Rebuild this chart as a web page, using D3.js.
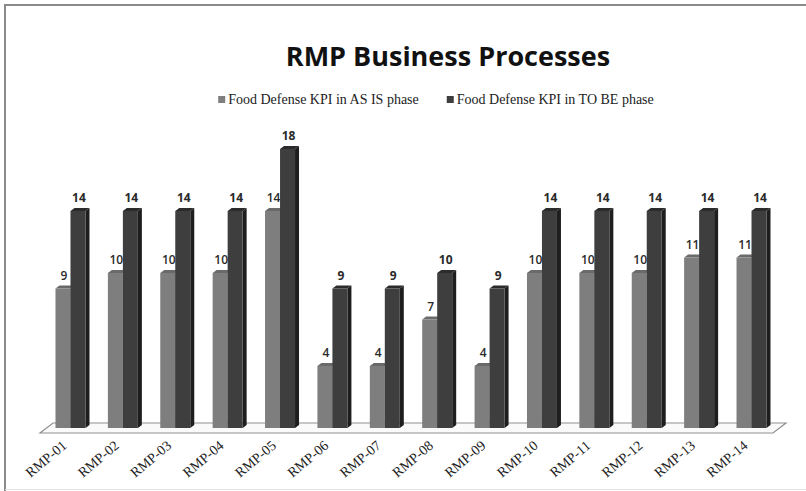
<!DOCTYPE html>
<html><head><meta charset="utf-8">
<script src="https://cdn.jsdelivr.net/npm/d3@7"></script>
<style>html,body{margin:0;padding:0;background:#fff;}svg{display:block;}</style>
</head><body>
<script>
const categories = ["RMP-01","RMP-02","RMP-03","RMP-04","RMP-05","RMP-06","RMP-07","RMP-08","RMP-09","RMP-10","RMP-11","RMP-12","RMP-13","RMP-14"];
const seriesNames = ["Food Defense KPI in AS IS phase","Food Defense KPI in TO BE phase"];
const asIs = [9,10,10,10,14,4,4,7,4,10,10,10,11,11];
const toBe = [14,14,14,14,18,9,9,10,9,14,14,14,14,14];
const title = "RMP Business Processes";

const W = 806, H = 491;
const svg = d3.select("body").append("svg").attr("width", W).attr("height", H);

// frame
svg.append("rect").attr("x",0).attr("y",0).attr("width",W).attr("height",H).attr("fill","#fff");
svg.append("path").attr("d","M5,491 L5,5 L806,5").attr("fill","none").attr("stroke","#8a8a8a").attr("stroke-width",2);
svg.append("line").attr("x1",5).attr("x2",806).attr("y1",489.5).attr("y2",489.5).attr("stroke","#e4e4e4").attr("stroke-width",1);

// title
svg.append("text").attr("x",448).attr("y",66).attr("text-anchor","middle")
  .attr("font-family","'Open Sans', sans-serif").attr("font-weight","bold").attr("font-size",27)
  .attr("fill","#111").text(title);

// legend
const colors = {front:["#7e7e7e","#3e3e3e"], top:["#6a6a6a","#2b2b2b"], side:["#5a5a5a","#1e1e1e"]};
const legendG = svg.append("g");
let lx = 0;
seriesNames.forEach((n,i)=>{
  const g = legendG.append("g").attr("transform",`translate(${lx},0)`);
  g.append("rect").attr("x",0).attr("y",-8).attr("width",7).attr("height",7).attr("fill",colors.front[i]);
  const t = g.append("text").attr("x",10).attr("y",0).attr("font-family","'Liberation Serif', serif")
    .attr("font-size",14).attr("fill","#222").text(n);
  lx += 10 + t.node().getComputedTextLength() + 28;
});
const lw = lx - 28;
legendG.attr("transform",`translate(${436 - lw/2},104)`);

// scales
const x = d3.scaleBand().domain(categories).range([44.3, 777.7]).paddingInner(0.4275).paddingOuter(0.21375);
const xs = d3.scaleBand().domain(seriesNames).range([0, x.bandwidth()]);
const y = d3.scaleLinear().domain([0, 18]).range([428, 149]);

// floor
const floorPts = [[53,423],[786,423],[773,433],[40,433]];
svg.append("polygon").attr("points", floorPts.map(p=>p.join(",")).join(" "))
  .attr("fill","#fafafa").attr("stroke","#8f8f8f").attr("stroke-width",1.2);

const dx = 4, dy = 3;
const data = [];
categories.forEach((c,i)=>{
  data.push({c, s:0, v:asIs[i]});
  data.push({c, s:1, v:toBe[i]});
});

const bars = svg.append("g").selectAll("g").data(data).join("g");
bars.each(function(d){
  const g = d3.select(this);
  const x0 = x(d.c) + xs(seriesNames[d.s]);
  const bw = xs.bandwidth();
  const yt = y(d.v), yb = y(0);
  g.append("polygon").attr("points",`${x0+bw},${yt} ${x0+bw+dx},${yt-dy} ${x0+bw+dx},${yb-dy} ${x0+bw},${yb}`)
    .attr("fill",colors.side[d.s]);
  g.append("polygon").attr("points",`${x0},${yt} ${x0+dx},${yt-dy} ${x0+bw+dx},${yt-dy} ${x0+bw},${yt}`)
    .attr("fill",colors.top[d.s]);
  g.append("rect").attr("x",x0).attr("y",yt).attr("width",bw).attr("height",yb-yt).attr("fill",colors.front[d.s]);
});

// value labels
svg.append("g").selectAll("text").data(data).join("text")
  .attr("x", d => x(d.c) + xs(seriesNames[d.s]) + xs.bandwidth()/2 + 1)
  .attr("y", d => y(d.v) - 9)
  .attr("text-anchor","middle")
  .attr("font-family","'Open Sans', sans-serif").attr("font-weight", d => d.s===1 ? 700 : 600).attr("font-size",12)
  .attr("fill","#2a2a2a").text(d => d.v);

// x axis labels
const xAxis = d3.axisBottom(x).tickSize(0).tickPadding(0);
const ax = svg.append("g").attr("transform","translate(0,447)").call(xAxis);
ax.select(".domain").remove();
ax.selectAll("text")
  .attr("font-family","'Liberation Serif', serif").attr("font-size",14).attr("fill","#222")
  .attr("text-anchor","end").attr("dy","0").attr("dx","0")
  .attr("transform","translate(-3,0) rotate(-40)");
</script>
</body></html>
